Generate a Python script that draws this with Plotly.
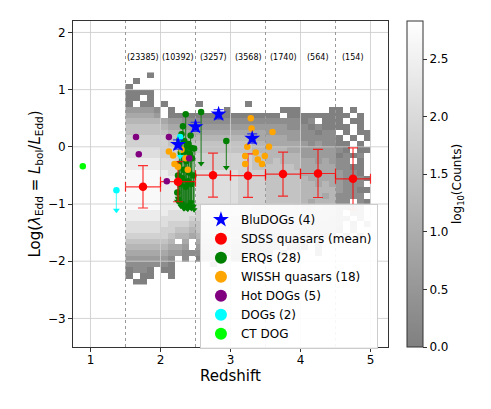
import plotly.graph_objects as go

# ---------------- data ----------------
BIN_CENTERS = [1.75, 2.25, 2.75, 3.25, 3.75, 4.25, 4.75]
BIN_COUNTS = [23385, 10392, 3257, 3568, 1740, 564, 154]
SDSS_MEAN = [-0.70, -0.61, -0.495, -0.505, -0.477, -0.466, -0.56]
SDSS_STD = [0.37, 0.35, 0.385, 0.38, 0.385, 0.42, 0.54]
SDSS_ZHALF = [0.25, 0.25, 0.25, 0.25, 0.25, 0.25, 0.25]
DIVIDERS = [1.5, 2.5, 3.5, 4.5]

BLU_Z = [2.25, 2.50, 2.83, 3.31]
BLU_L = [0.04, 0.35, 0.57, 0.146]
BLU_ERR = [0.08, 0.08, 0.08, 0.08]

ERQ_Z = [2.36, 2.58, 2.94, 2.32, 2.30, 2.34, 2.38, 2.44, 2.48, 2.40, 2.27, 2.35, 2.42, 2.29,
         2.37, 2.26, 2.45, 2.33, 2.41, 2.25, 2.31, 2.39, 2.28, 2.36, 2.44, 2.47, 2.43, 2.24]
ERQ_L = [0.57, 0.61, 0.10, 0.36, 0.22, 0.10, 0.02, -0.02, -0.03, 0.05, 0.12, -0.08, -0.12, -0.10,
         -0.25, -0.30, -0.20, -0.40, -0.45, -0.50, -0.55, -0.60, -0.65, -0.70, -0.65, -0.50, 0.20, -0.80]
ERQ_LOW = [-1.05, -0.29, -0.36, -1.00, -0.98, -1.08, -1.05, -1.08, -1.10, -1.02, -0.95, -1.06, -1.00, -1.04,
           -1.07, -0.92, -1.03, -1.08, -1.05, -0.90, -1.02, -1.09, -1.00, -1.06, -0.98, -1.04, -0.96, -0.95]

WISSH_Z = [3.29, 3.30, 3.60, 3.24, 3.55, 3.36, 3.21, 3.49, 3.39, 3.45, 3.21,
           2.12, 2.18, 2.20, 2.39, 2.30, 2.36, 2.25]
WISSH_L = [0.50, 0.32, 0.26, 0.00, 0.00, -0.10, -0.16, -0.16, -0.22, -0.30, -0.30,
           -0.08, -0.15, -0.30, -0.40, -0.05, -0.20, -0.35]

HOT_Z = [1.65, 1.69, 2.12, 2.09, 2.41]
HOT_L = [0.17, -0.13, 0.17, -0.60, -0.20]

DOG_Z = [1.37, 2.28]
DOG_L = [-0.76, 0.17]
DOG_LOW = [-1.11, -0.17]

CT_Z = [0.89]
CT_L = [-0.34]

# 2D histogram of SDSS quasars: log10(counts) level per 0.1x0.1 cell, level digit d -> 0.3*d
HEAT_X_FIRST = 1.55
HEAT_Y_TOP = 1.25
HEAT_STEP = 0.1
HEAT_ROWS = [
    "   0      " + "          " + "     " + "     " + "     ",
    " 0        " + "          " + "     " + "     " + "     ",
    "0         " + "          " + "     " + "     " + "     ",
    "0000      " + "          " + "     " + "     " + "     ",
    "00 0      " + "          " + "     " + "     " + "     ",
    "0 00 0    " + "0      0  " + "     " + "     " + "     ",
    "22221 0   " + "    0     " + "  000" + "    0" + "0 0  ",
    "33332 0000" + "0000000000" + "00 00" + "00000" + "00 0 ",
    "4444432211" + "1111111111" + "11111" + "01 00" + "0 00 ",
    "5555543322" + "2222222222" + "22211" + "10100" + "00 0 ",
    "5555554433" + "3333333333" + "22222" + "11011" + " 0 00",
    "6666665544" + "4444444433" + "33322" + "11111" + "0 0 0",
    "6666665555" + "5555555544" + "33333" + "21211" + "00 0 ",
    "7777766655" + "5555555544" + "44433" + "22222" + "10 00",
    "7777766666" + "6666666655" + "44444" + "22222" + "0101 ",
    "8888877666" + "6666666655" + "45444" + "33232" + "11 0 ",
    "8888877777" + "6666666655" + "55554" + "33333" + "1100 ",
    "9999987777" + "7777776666" + "55555" + "33333" + "2110 ",
    "9999988877" + "7777776666" + "55555" + "43333" + "21110",
    "9999988888" + "7777776666" + "55555" + "44343" + "2111 ",
    "9999988888" + "7777776666" + "55555" + "44444" + "21100",
    "9999988888" + "7777776666" + "55555" + "44434" + "1111 ",
    "9999988888" + "7777776666" + "55555" + "43444" + "11 10",
    "9999988877" + "7777766655" + "55554" + "33433" + "1101 ",
    "8888887777" + "6666666555" + "44444" + "33333" + "1 11 ",
    "8888877776" + "6666655555" + "44444" + "33332" + "11 1 ",
    "7777776665" + "5555555444" + "33333" + "22222" + "1 0 1",
    "7777766554" + "5555444444" + "33333" + "22222" + "0 1  ",
    "6666665443" + "4444444333" + "22222" + "11111" + " 0 0 ",
    "5555554 3 " + "3333333222" + "11111" + "1 1 0" + "     ",
    "444444332 " + "2222222111" + "11 10" + "0 0  " + "     ",
    "3333332211" + "1111111000" + "0 0  " + "  0  " + "     ",
    "2222221 1 " + "0000 00   " + "     " + "     " + "     ",
    "1111110   " + "  0       " + "     " + "     " + "     ",
    "0110 00   " + "          " + "     " + "     " + "     ",
    "0 00  0   " + "          " + "     " + "     " + "     ",
    " 00       " + "          " + "     " + "     " + "     ",
]
LEVEL = 0.3
CMAX = 2.83

X_TICKS = [1, 2, 3, 4, 5]
Y_TICKS = [-3, -2, -1, 0, 1, 2]
X_RANGE = [0.75, 5.25]
Y_RANGE = [-3.5, 2.2]
COUNT_LABEL_Y = 1.56

FONT = "DejaVu Sans"

# ---------------- figure ----------------
ncol = max(len(r) for r in HEAT_ROWS)
zgrid = []
for row in reversed(HEAT_ROWS):
    zgrid.append([None if c == " " else int(c) * LEVEL for c in row.ljust(ncol)])
y_bottom = HEAT_Y_TOP - HEAT_STEP * (len(HEAT_ROWS) - 1)

fig = go.Figure()

fig.add_trace(go.Heatmap(
    z=zgrid, x0=HEAT_X_FIRST, dx=HEAT_STEP, y0=y_bottom, dy=HEAT_STEP,
    zmin=0, zmax=CMAX,
    colorscale=[[0, "rgb(128,128,128)"], [1, "rgb(255,255,255)"]],
    showlegend=False, hoverinfo="skip",
    colorbar=dict(
        thickness=16, len=1, lenmode="fraction", y=0.5, yanchor="middle",
        x=1.06, xanchor="left", xpad=0, ypad=0,
        outlinewidth=1, outlinecolor="#333",
        tickvals=[0, 0.5, 1.0, 1.5, 2.0, 2.5], tickformat=".1f",
        ticks="outside", ticklen=4, tickcolor="#333",
        tickfont=dict(family=FONT, size=12, color="#000"),
        title=dict(text="log<sub>10</sub>(Counts)", side="right",
                   font=dict(family=FONT, size=12, color="#000")),
    ),
))

# grid lines (above the heatmap, below markers)
gx, gy = [], []
for t in X_TICKS:
    gx += [t, t, None]
    gy += [Y_RANGE[0], Y_RANGE[1], None]
for t in Y_TICKS:
    gx += [X_RANGE[0], X_RANGE[1], None]
    gy += [t, t, None]
fig.add_trace(go.Scatter(x=gx, y=gy, mode="lines", line=dict(color="rgba(205,205,205,0.85)", width=1),
                         showlegend=False, hoverinfo="skip"))
dx_, dy_ = [], []
for t in DIVIDERS:
    dx_ += [t, t, None]
    dy_ += [Y_RANGE[0], Y_RANGE[1], None]
fig.add_trace(go.Scatter(x=dx_, y=dy_, mode="lines", line=dict(color="#999", width=1, dash="dot"),
                         showlegend=False, hoverinfo="skip"))

# ERQs: line from value down to the limit, arrow at the bottom
erq_down = [v - lo for v, lo in zip(ERQ_L, ERQ_LOW)]
fig.add_trace(go.Scatter(
    x=ERQ_Z, y=ERQ_L, mode="markers", name="ERQs (28)", legendrank=3,
    marker=dict(color="#008000", size=6.5),
    error_y=dict(type="data", symmetric=False, array=[0] * len(ERQ_L), arrayminus=erq_down,
                 color="#1a7a1a", thickness=1, width=0),
))
fig.add_trace(go.Scatter(
    x=ERQ_Z, y=ERQ_LOW, mode="markers", showlegend=False, hoverinfo="skip",
    marker=dict(color="#008000", size=6, symbol="triangle-down"),
))

# SDSS means
fig.add_trace(go.Scatter(
    x=BIN_CENTERS, y=SDSS_MEAN, mode="markers", name="SDSS quasars (mean)", legendrank=2,
    marker=dict(color="red", size=8.5),
    error_y=dict(type="data", array=SDSS_STD, color="rgba(255,0,0,0.8)", thickness=1.2, width=5),
    error_x=dict(type="data", array=SDSS_ZHALF, color="rgba(255,0,0,0.8)", thickness=1.2, width=5),
))

fig.add_trace(go.Scatter(
    x=WISSH_Z, y=WISSH_L, mode="markers", name="WISSH quasars (18)", legendrank=4,
    marker=dict(color="#ffa500", size=6.5),
))
fig.add_trace(go.Scatter(
    x=HOT_Z, y=HOT_L, mode="markers", name="Hot DOGs (5)", legendrank=5,
    marker=dict(color="#800080", size=6.5),
))
dog_down = [v - lo for v, lo in zip(DOG_L, DOG_LOW)]
fig.add_trace(go.Scatter(
    x=DOG_Z, y=DOG_L, mode="markers", name="DOGs (2)", legendrank=6,
    marker=dict(color="#00ffff", size=6.5),
    error_y=dict(type="data", symmetric=False, array=[0] * len(DOG_L), arrayminus=dog_down,
                 color="rgba(0,255,255,0.6)", thickness=1.2, width=0),
))
fig.add_trace(go.Scatter(
    x=DOG_Z, y=DOG_LOW, mode="markers", showlegend=False, hoverinfo="skip",
    marker=dict(color="#00ffff", size=6, symbol="triangle-down"),
))
fig.add_trace(go.Scatter(
    x=CT_Z, y=CT_L, mode="markers", name="CT DOG", legendrank=7,
    marker=dict(color="#00ff00", size=6.5),
))
fig.add_trace(go.Scatter(
    x=BLU_Z, y=BLU_L, mode="markers", name="BluDOGs (4)", legendrank=1,
    marker=dict(color="blue", size=12, symbol="star"),
    error_y=dict(type="data", array=BLU_ERR, color="rgba(0,0,255,0.7)", thickness=1.2, width=5),
))

# counts per redshift bin
for zc, n in zip(BIN_CENTERS, BIN_COUNTS):
    fig.add_annotation(x=zc, y=COUNT_LABEL_Y, text=f"({n})", showarrow=False,
                       font=dict(family=FONT, size=8, color="#000"))

axis_common = dict(showline=True, mirror=True, linecolor="#333", linewidth=1, automargin=True,
                   ticks="outside", ticklen=4, tickcolor="#333", showgrid=False, zeroline=False,
                   tickfont=dict(family=FONT, size=12, color="#000"))
fig.update_xaxes(range=X_RANGE, tickvals=X_TICKS, **axis_common, ticklabelstandoff=-2,
                 title=dict(text="Redshift", font=dict(family=FONT, size=15, color="#000"), standoff=0))
fig.update_yaxes(range=Y_RANGE, tickvals=Y_TICKS, **axis_common,
                 title=dict(text="Log(<i>λ</i><sub>Edd</sub> = <i>L</i><sub>bol</sub>/<i>L</i><sub>Edd</sub>)",
                            font=dict(family=FONT, size=15, color="#000"), standoff=3))

fig.update_layout(
    width=491, height=409,
    margin=dict(l=65, r=111, t=13, b=70, autoexpand=False),
    paper_bgcolor="white", plot_bgcolor="white",
    font=dict(family=FONT, color="#000"),
    legend=dict(x=0.403, y=0.438, xanchor="left", yanchor="top",
                bgcolor="rgba(255,255,255,0.92)", bordercolor="#ccc", borderwidth=1,
                font=dict(family=FONT, size=12, color="#000"), tracegroupgap=0,
                itemsizing="constant"),
    showlegend=True,
)

fig.write_html("out.html")
